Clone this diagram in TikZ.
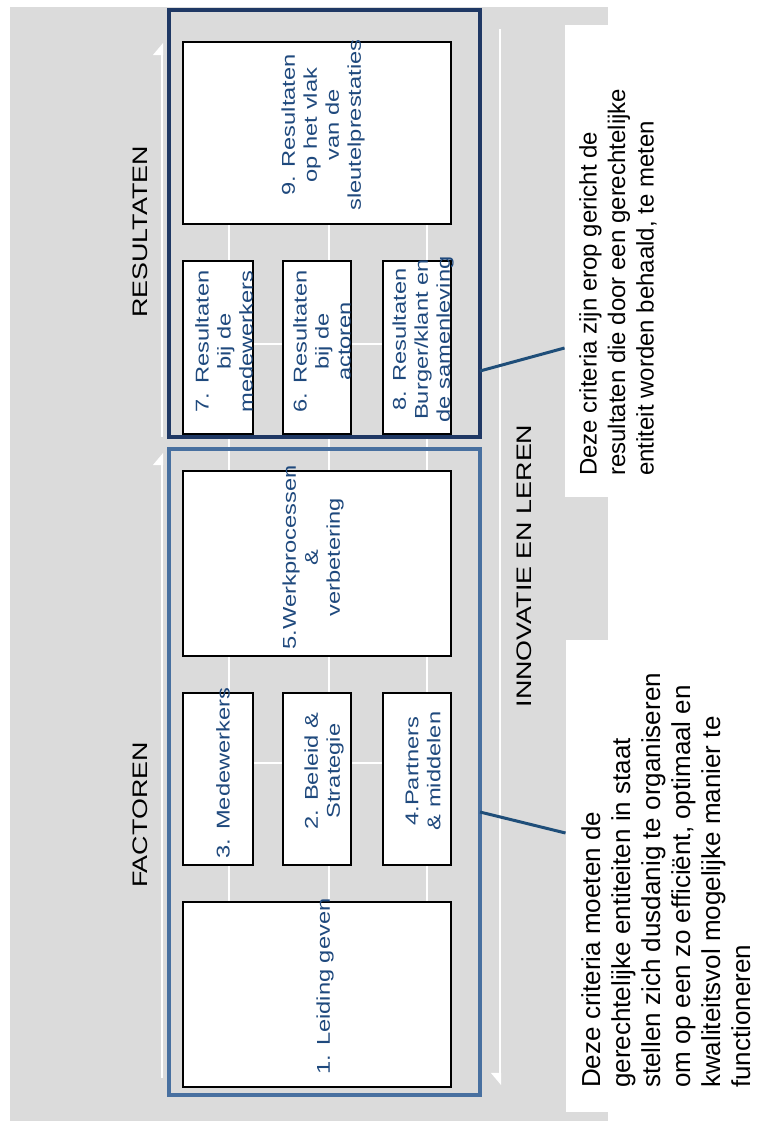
\documentclass[tikz,border=0pt]{standalone}
\usepackage{fontspec}
\setmainfont{Liberation Sans}
\usepackage{tikz}
\usetikzlibrary{positioning,arrows.meta}
\definecolor{grijsvlak}{RGB}{219,219,219}
\definecolor{blauwres}{RGB}{31,56,100}
\definecolor{blauwfac}{RGB}{72,112,160}
\definecolor{blauwtekst}{RGB}{31,73,125}
\definecolor{blauwlijn}{RGB}{31,78,121}

\begin{document}
\begin{tikzpicture}[x=1pt,y=-1pt,
  kader/.style={draw,line width=4pt,minimum width=311pt,inner sep=0pt,outer sep=0pt},
  vak/.style={draw=black,fill=white,line width=2pt,inner sep=0pt,outer sep=0pt},
  breed/.style={vak,minimum width=268pt,minimum height=184pt},
  smal/.style={vak,minimum width=68pt,minimum height=173pt},
  vaktekst/.style={font=\fontsize{18.5}{22}\selectfont,text=blauwtekst,align=center,rotate=90,xscale=1.28,inner sep=0pt},
  kop/.style={font=\fontsize{21}{25}\selectfont,rotate=90,xscale=1.28,inner sep=0pt},
  uitleg/.style={fill=white,minimum width=192pt,minimum height=472pt,inner sep=0pt,outer sep=0pt},
  uitlegtekst/.style={align=left,rotate=90,anchor=north west,inner sep=0pt},
  pijl/.style={draw=white,line width=2pt},
  lijn/.style={draw=blauwlijn,line width=3pt}]
\useasboundingbox (0,0) rectangle (757,1123);
\fill[grijsvlak] (10,7) rectangle (608,1121);
% raster achter de vakken
\foreach \x in {229,329,427}
  \draw[white,line width=2pt] (\x,42) -- (\x,1087);
\foreach \y in {344,763}
  \draw[white,line width=2pt] (229,\y) -- (427,\y);
% pijlen
\coordinate (facbot) at (162,1078);
\coordinate (factop) at (162,453);
\coordinate (resbot) at (162,437);
\coordinate (restop) at (162,43);
\coordinate (innbov) at (500,29);
\coordinate (innond) at (500,1085);
\draw[pijl,-{Triangle[harpoon,width=18pt,length=11pt,white]}] (facbot) -- (factop);
\draw[pijl,-{Triangle[harpoon,width=18pt,length=11pt,white]}] (resbot) -- (restop);
\draw[pijl,-{Triangle[harpoon,swap,width=18pt,length=11pt,white]}] (innbov) -- (innond);
% kaders
\node[kader,draw=blauwres,minimum height=427pt] (fres) at (324.5,223.5) {};
\node[kader,draw=blauwfac,minimum height=646pt] (ffac) at (324.5,772) {};
% resultaten
\node[breed,minimum height=182pt] (b9) at (317,133) {};
\node[smal,minimum width=70pt,below right=37pt and 0pt of b9.south west] (b7) {};
\node[smal,right=30pt of b7] (b6) {};
\node[smal,right=32pt of b6] (b8) {};
% factoren
\node[breed,minimum height=185pt] (b5) at (317,563.5) {};
\node[smal,minimum width=70pt,minimum height=172pt,below right=37pt and 0pt of b5.south west] (b3) {};
\node[smal,minimum height=172pt,right=30pt of b3] (b2) {};
\node[smal,minimum height=172pt,right=32pt of b2] (b4) {};
\node[breed,minimum height=185pt,below right=37pt and 0pt of b3.south west] (b1) {};
% teksten
\node[vaktekst] (t9) at ([shift={(6,-8)}]b9.center) {9. Resultaten\\op het vlak\\van de\\sleutelprestaties};
\node[vaktekst] (t7) at ([shift={(6,-6)}]b7.center) {7. Resultaten\\bij de\\medewerkers};
\node[vaktekst] (t6) at ([shift={(5,-6)}]b6.center) {6. Resultaten\\bij de\\actoren};
\node[vaktekst] (t8) at ([shift={(6,-8)}]b8.center) {8. Resultaten\\Burger/klant en\\de samenleving};
\node[vaktekst] (t5) at ([shift={(-4,-6)}]b5.center) {5.Werkprocessen\\\&\\verbetering};
\node[vaktekst] (t3) at ([shift={(5,-6)}]b3.center) {3. Medewerkers};
\node[vaktekst] (t2) at ([shift={(7,-8)}]b2.center) {2. Beleid \&\\Strategie};
\node[vaktekst] (t4) at ([shift={(6,-8)}]b4.center) {4.Partners\\\& middelen};
\node[vaktekst] (t1) at ([shift={(8,-8)}]b1.center) {1. Leiding geven};
\node[kop] (lres) at (140,232) {RESULTATEN};
\node[kop] (lfac) at (140,815) {FACTOREN};
\node[kop] (linn) at (524,566) {INNOVATIE EN LEREN};
% uitleg rechts
\node[uitleg] (cres) at (660.5,261) {};
\node[uitleg] (cfac) at (661.5,876) {};
\node[uitlegtekst,font=\fontsize{24}{28.5}\selectfont] (ures) at (579,476) {Deze criteria zijn erop gericht de\\resultaten die door een gerechtelijke\\entiteit worden behaald, te meten};
\node[uitlegtekst,font=\fontsize{26}{30}\selectfont] (ufac) at (581,1088) {Deze criteria moeten de\\gerechtelijke entiteiten in staat\\stellen zich dusdanig te organiseren\\om op een zo efficiënt, optimaal en\\kwaliteitsvol mogelijke manier te\\functioneren};
\draw[lijn] ([yshift=-147.5pt]fres.east) -- ([yshift=-87pt]cres.west);
\draw[lijn] ([yshift=-40pt]ffac.east) -- ([yshift=43pt]cfac.west);
\end{tikzpicture}
\end{document}
